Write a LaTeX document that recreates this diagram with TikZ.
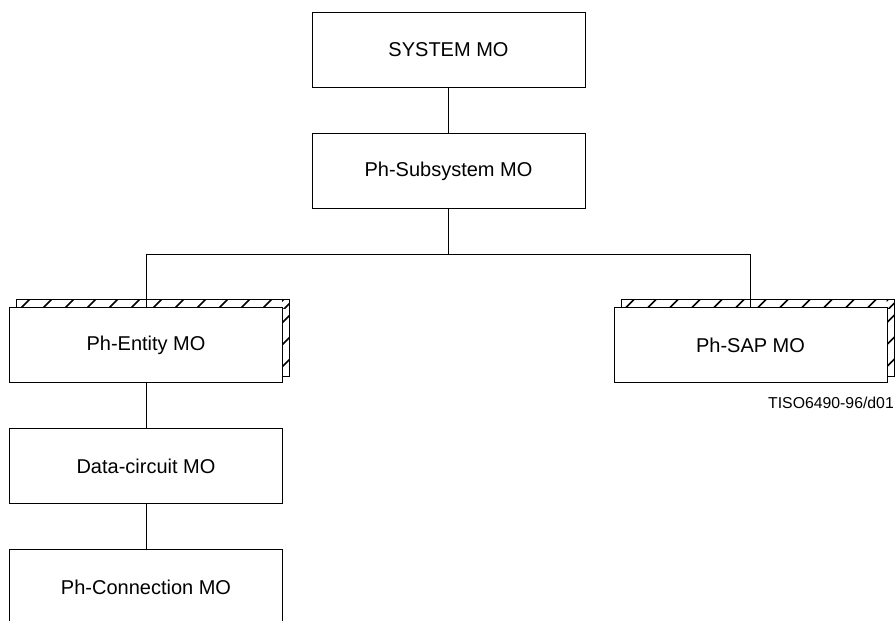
\documentclass[tikz,border=0pt]{standalone}
\usepackage{fontspec}
\setmainfont{Liberation Sans}
\begin{document}
\begin{tikzpicture}[x=1pt,y=-1pt,
  mobox/.style={draw,line width=0.9pt,fill=white,minimum width=273pt,minimum height=75pt,inner sep=0pt,font=\fontsize{20}{24}\selectfont},
  link/.style={line width=0.9pt},
  hatch/.style={line width=1.6pt}]
\useasboundingbox (0,0) rectangle (895,621);

\node[mobox] (sys) at (448.5,50) {SYSTEM MO};
\node[mobox] (sub) at (448.5,171) {Ph-Subsystem MO};

% hatched back boxes
\foreach \cx in {146,750.5}{
  \begin{scope}
    \clip (\cx-129.5,299) rectangle (\cx+143.5,308);
    \foreach \k in {0,...,13}{
      \draw[hatch] (\cx-121+\k*22-8,312) -- (\cx-121+\k*22+10,294);
    }
  \end{scope}
  \begin{scope}
    \clip (\cx+136,299) rectangle (\cx+143.5,376);
    \foreach \j in {-1,...,3}{
      \draw[hatch] (\cx+132,\j*22+327) -- (\cx+148,\j*22+311);
    }
  \end{scope}
  \draw[line width=0.9pt] (\cx-129.5,299) rectangle (\cx+143.5,376);
}
\node[mobox] (ent) at (146,345) {Ph-Entity MO};
\node[mobox] (sap) at (750.5,345) {Ph-SAP MO};

\node[mobox] (dat) at (146,466) {Data-circuit MO};
\node[mobox] (con) at (146,587) {Ph-Connection MO};

\coordinate (bus) at (448.5,254);
\draw[link] (sys) -- (sub);
\draw[link] (sub.south) -- (bus);
\draw[link] (ent.north |- bus) -- (sap.north |- bus);
\draw[link] (ent.north |- bus) -- (ent.north);
\draw[link] (sap.north |- bus) -- (sap.north);
\draw[link] (ent) -- (dat);
\draw[link] (dat) -- (con);

\node[anchor=base east,inner sep=0pt,font=\fontsize{15.8}{18}\selectfont] (lbl) at (894,408) {TISO6490-96/d01};
\end{tikzpicture}
\end{document}
